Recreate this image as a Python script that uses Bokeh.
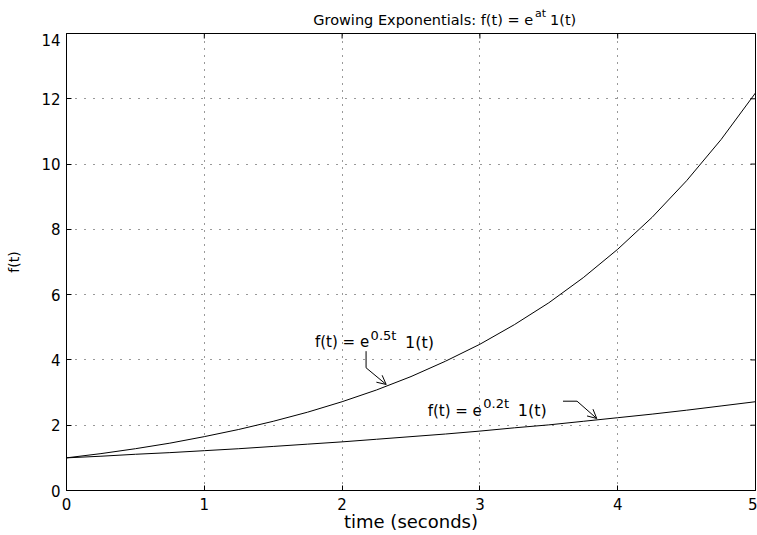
import math
from bokeh.plotting import figure
from bokeh.layouts import column
from bokeh.models import Range1d, FixedTicker, Arrow, OpenHead
from bokeh.core.properties import value
from bokeh.embed import file_html
from bokeh.resources import INLINE

# ---- data ----
t = [0, 0.25, 0.5, 0.75, 1, 1.25, 1.5, 1.75, 2, 2.25, 2.5, 2.75, 3,
     3.25, 3.5, 3.75, 4, 4.25, 4.5, 4.75, 5]
f_05 = [1.00, 1.13, 1.28, 1.45, 1.65, 1.87, 2.12, 2.40, 2.72, 3.08, 3.49,
        3.96, 4.48, 5.08, 5.75, 6.52, 7.39, 8.37, 9.49, 10.75, 12.18]
f_02 = [1.00, 1.05, 1.11, 1.16, 1.22, 1.28, 1.35, 1.42, 1.49, 1.57, 1.65,
        1.73, 1.82, 1.92, 2.01, 2.12, 2.23, 2.34, 2.46, 2.59, 2.72]
x_ticks = [0, 1, 2, 3, 4, 5]
y_ticks = [0, 2, 4, 6, 8, 10, 12, 14]

title_main = "Growing Exponentials: f(t) = e"
title_sup = "at"
title_tail = "1(t)"
x_label = "time (seconds)"
y_label = "f(t)"

ann1_main, ann1_sup, ann1_tail = "f(t) = e", "0.5t", "1(t)"
ann2_main, ann2_sup, ann2_tail = "f(t) = e", "0.2t", "1(t)"

# annotation arrow paths (data coordinates)
arrow1_x = [2.174, 2.174, 2.320]
arrow1_y = [4.268, 3.759, 3.248]
arrow2_x = [3.603, 3.705, 3.848]
arrow2_y = [2.736, 2.736, 2.206]

FONT = "DejaVu Sans"
X0, X1, Y0, Y1 = 0, 5, 0, 14

# ---- header with the title (text above the axes box) ----
header = figure(frame_width=689, frame_height=33,
                x_range=Range1d(X0, X1), y_range=Range1d(0, 33),
                output_backend="svg", toolbar_location=None,
                x_axis_location=None, y_axis_location=None,
                min_border_left=66, min_border_right=2,
                min_border_top=0, min_border_bottom=0,
                outline_line_color=None, background_fill_color="white",
                border_fill_color="white")
header.grid.grid_line_color = None


def htext(fig, x, y, text, size, align):
    fig.text(x=[x], y=[y], text=[text], text_font=value(FONT),
             text_font_size=size, text_align=align,
             text_baseline="alphabetic", text_color="black")


htext(header, 3.386, 14, title_main, "14.5px", "right")
htext(header, 3.400, 20, title_sup, "11px", "left")
htext(header, 3.509, 14, title_tail, "14.5px", "left")

# ---- main axes ----
p = figure(frame_width=689, frame_height=457,
           x_range=Range1d(X0, X1), y_range=Range1d(Y0, Y1),
           output_backend="svg", toolbar_location=None,
           min_border_left=66, min_border_right=2,
           min_border_top=0, min_border_bottom=45,
           background_fill_color="white", border_fill_color="white",
           outline_line_color="black", outline_line_width=1)

for ax in (p.xaxis[0], p.yaxis[0]):
    ax.major_tick_in = 5
    ax.major_tick_out = 0
    ax.minor_tick_line_color = None
    ax.axis_line_color = "black"
    ax.major_tick_line_color = "black"
    ax.major_label_text_font = FONT
    ax.major_label_text_font_size = "15px"
    ax.major_label_text_color = "black"
    ax.axis_label_text_font = FONT
    ax.axis_label_text_font_style = "normal"
    ax.axis_label_text_color = "black"

p.xaxis[0].ticker = FixedTicker(ticks=x_ticks)
p.yaxis[0].ticker = FixedTicker(ticks=y_ticks)
p.xaxis[0].axis_label = x_label
p.yaxis[0].axis_label = y_label
p.xaxis[0].axis_label_text_font_size = "18px"
p.yaxis[0].axis_label_text_font_size = "14px"
p.xaxis[0].major_label_standoff = 7
p.xaxis[0].axis_label_standoff = -2
p.yaxis[0].major_label_standoff = 6
p.yaxis[0].axis_label_standoff = 16

# inward ticks on the top and right edges (outer half clipped by the frame)
p.scatter(x=x_ticks, y=[Y1] * len(x_ticks), marker="dash", size=10,
          angle=math.pi / 2, line_color="black", line_width=1)
p.scatter(x=[X1] * len(y_ticks), y=y_ticks, marker="dash", size=10,
          line_color="black", line_width=1)

# dotted grid
p.xgrid.grid_line_color = "#333333"
p.xgrid.grid_line_dash = "1 6"
p.ygrid.grid_line_color = "#333333"
p.ygrid.grid_line_dash = "1 8"

# curves
p.line(t, f_05, line_color="black", line_width=1)
p.line(t, f_02, line_color="black", line_width=1)

# arrows
for ax_, ay_ in ((arrow1_x, arrow1_y), (arrow2_x, arrow2_y)):
    p.line(ax_[:2], ay_[:2], line_color="black", line_width=1)
    p.add_layout(Arrow(x_start=ax_[1], y_start=ay_[1], x_end=ax_[2], y_end=ay_[2],
                       line_color="black", line_width=1,
                       end=OpenHead(size=9, line_color="black", line_width=1)))

# annotation texts
htext(p, 2.196, 4.534, ann1_main, "15px", "right")
htext(p, 2.207, 4.749, ann1_sup, "13px", "left")
htext(p, 2.457, 4.534, ann1_tail, "16px", "left")

htext(p, 3.014, 2.436, ann2_main, "15px", "right")
htext(p, 3.025, 2.650, ann2_sup, "13px", "left")
htext(p, 3.275, 2.436, ann2_tail, "16px", "left")

layout = column(header, p, spacing=0)
open("out.html", "w").write(file_html(layout, INLINE))
